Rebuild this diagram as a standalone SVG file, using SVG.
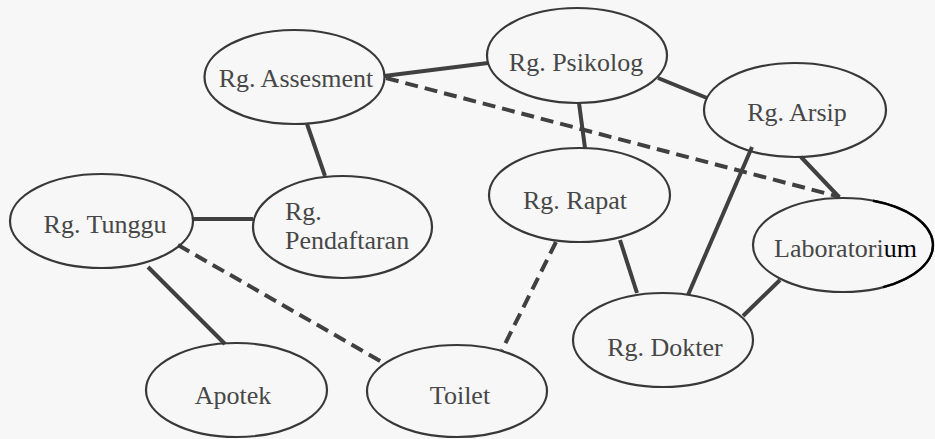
<svg xmlns="http://www.w3.org/2000/svg" width="935" height="439" viewBox="0 0 935 439">
<style>
.node ellipse{fill:none;stroke:#383838;stroke-width:2.2}
.node text{font-family:'Liberation Serif','Times New Roman',serif;font-size:26px;fill:#474747;text-anchor:middle}
.edge{stroke:#404040;stroke-width:4;fill:none}
.dash{stroke-dasharray:13 7}
</style>
<rect width="935" height="439" fill="#f7f7f7"/>
<g id="connectors">
<line class="edge" x1="384" y1="76" x2="488" y2="63"/>
<line class="edge dash" x1="386" y1="78" x2="840" y2="197"/>
<line class="edge" x1="307" y1="124" x2="325" y2="176"/>
<line class="edge" x1="658" y1="78" x2="707" y2="98"/>
<line class="edge" x1="579" y1="103" x2="585" y2="148"/>
<line class="edge" x1="801" y1="157" x2="839" y2="197"/>
<line class="edge" x1="752" y1="147" x2="688" y2="295"/>
<line class="edge" x1="780" y1="280" x2="743" y2="316"/>
<line class="edge" x1="620" y1="240" x2="637" y2="293"/>
<line class="edge dash" x1="556" y1="242" x2="502" y2="350"/>
<line class="edge" x1="193" y1="219" x2="253" y2="219"/>
<line class="edge dash" x1="178" y1="245" x2="382" y2="362"/>
<line class="edge" x1="148" y1="267" x2="225" y2="344"/>
</g>
<g id="assesment" class="node"><ellipse cx="294.5" cy="77" rx="90" ry="47"/><text x="296" y="87">Rg. Assesment</text></g>
<g id="psikolog" class="node"><ellipse cx="577" cy="55.5" rx="90" ry="47.5"/><text x="576" y="71">Rg. Psikolog</text></g>
<g id="arsip" class="node"><ellipse cx="795" cy="110" rx="91" ry="47"/><text x="797" y="121">Rg. Arsip</text></g>
<g id="tunggu" class="node"><ellipse cx="101.5" cy="221" rx="91.5" ry="47"/><text x="105" y="233">Rg. Tunggu</text></g>
<g id="pendaftaran" class="node"><ellipse cx="342.5" cy="227" rx="89.5" ry="51"/><text x="285" y="220" style="text-anchor:start">Rg.</text><text x="285" y="249" style="text-anchor:start">Pendaftaran</text></g>
<g id="rapat" class="node"><ellipse cx="579.5" cy="195" rx="90.5" ry="47"/><text x="575" y="209">Rg. Rapat</text></g>
<g id="laboratorium" class="node"><ellipse cx="843" cy="245" rx="90" ry="47"/><path d="M873 200.7 A90 47 0 0 1 883 287.1" fill="none" stroke="#000" stroke-width="2.4"/><text x="845.5" y="257">Laboratori<tspan fill="#000">um</tspan></text></g>
<g id="dokter" class="node"><ellipse cx="663" cy="340" rx="90" ry="47"/><text x="665" y="356">Rg. Dokter</text></g>
<g id="apotek" class="node"><ellipse cx="236.5" cy="390" rx="90.5" ry="47"/><text x="233" y="404">Apotek</text></g>
<g id="toilet" class="node"><ellipse cx="457" cy="391" rx="90" ry="46"/><text x="460" y="404">Toilet</text></g>
</svg>
